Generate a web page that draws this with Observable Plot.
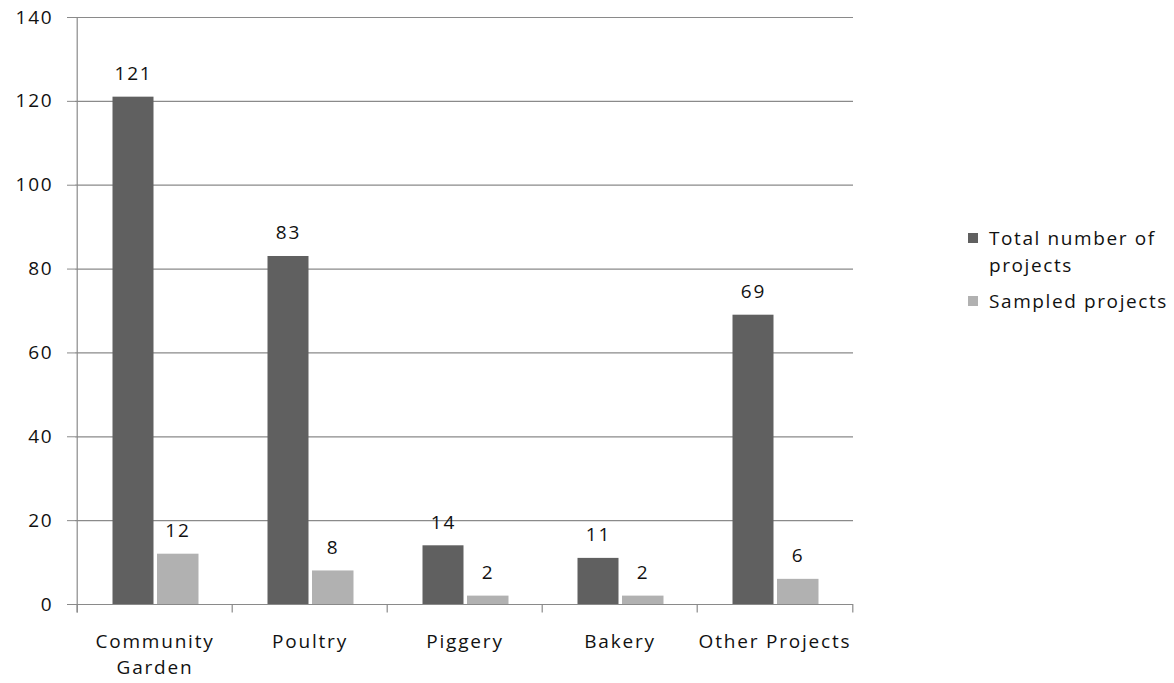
<!DOCTYPE html>
<html>
<head>
<meta charset="utf-8">
<script src="https://cdn.jsdelivr.net/npm/d3@7"></script>
<script src="https://cdn.jsdelivr.net/npm/@observablehq/plot@0.6"></script>
<style>
  html, body { margin: 0; padding: 0; background: #fff; }
  #wrap { position: relative; width: 1174px; height: 683px; font-family: "Open Sans", sans-serif; }
  #legend { position: absolute; left: 968px; top: 225px; font-size: 19px; letter-spacing: 1.6px; color: #111; }
  .item { position: relative; padding-left: 21px; line-height: 27px; margin-bottom: 9px; white-space: nowrap; }
  .sw { position: absolute; left: 0; top: 8px; width: 10px; height: 10px; }
</style>
</head>
<body>
<div id="wrap"><div id="legend"></div></div>
<script>
const categories = ["Community Garden", "Poultry", "Piggery", "Bakery", "Other Projects"];
const categoryLabels = ["Community\nGarden", "Poultry", "Piggery", "Bakery", "Other Projects"];
const totalProjects = [121, 83, 14, 11, 69];
const sampledProjects = [12, 8, 2, 2, 6];
const seriesNames = ["Total number of\nprojects", "Sampled projects"];
const seriesColors = ["#606060", "#b1b1b1"];
const yTicks = [0, 20, 40, 60, 80, 100, 120, 140];

const totalData = categories.map((c, i) => ({category: c, value: totalProjects[i]}));
const sampledData = categories.map((c, i) => ({category: c, value: sampledProjects[i]}));
const labelData = categories.map((c, i) => ({category: c, label: categoryLabels[i]}));

const font = "Open Sans, sans-serif";
const grid = "#8a8a8a";
const half = (853 - 75) / categories.length / 2;

const chart = Plot.plot({
  width: 1174,
  height: 683,
  marginLeft: 75,
  marginRight: 321,
  marginTop: 17,
  marginBottom: 79,
  style: {fontFamily: font, fontSize: "19px", color: "#111", background: "transparent", letterSpacing: "1.8px"},
  x: {domain: categories, padding: 0, axis: null},
  y: {domain: [0, 140], axis: null},
  marks: [
    Plot.ruleY(yTicks, {y: d => d, stroke: grid, strokeWidth: 1.2}),
    Plot.axisY({ticks: yTicks, tickSize: 8, tickPadding: 14, stroke: grid, strokeOpacity: 1, fontSize: 19, fill: "#111", label: null}),
    Plot.ruleX([categories[0]], {x: d => d, y1: -2, y2: 140, dx: -half, stroke: grid, strokeWidth: 1.2}),
    Plot.ruleX(categories, {x: d => d, y1: 0, y2: -2, dx: -half, stroke: grid, strokeWidth: 1.2}),
    Plot.ruleX([categories[categories.length - 1]], {x: d => d, y1: 0, y2: -2, dx: half, stroke: grid, strokeWidth: 1.2}),
    Plot.barY(totalData, {x: "category", y: "value", fill: seriesColors[0], insetLeft: 35.5, insetRight: 78.5}),
    Plot.barY(sampledData, {x: "category", y: "value", fill: seriesColors[1], insetLeft: 80, insetRight: 33.5}),
    Plot.text(totalData, {x: "category", y: "value", text: d => String(d.value), dx: -21.5, dy: -17, lineAnchor: "bottom", fontSize: 19, fill: "#111"}),
    Plot.text(sampledData, {x: "category", y: "value", text: d => String(d.value), dx: 23, dy: -17, lineAnchor: "bottom", fontSize: 19, fill: "#111"}),
    Plot.text(labelData, {x: "category", y: 0, text: "label", dy: 26, lineAnchor: "top", lineHeight: 1.33, fontSize: 19, fill: "#111"})
  ]
});
document.getElementById("wrap").prepend(chart);
chart.style.position = "absolute";
chart.style.left = "0";
chart.style.top = "0";

const legend = document.getElementById("legend");
seriesNames.forEach((name, i) => {
  const item = document.createElement("div");
  item.className = "item";
  const sw = document.createElement("span");
  sw.className = "sw";
  sw.style.background = seriesColors[i];
  item.appendChild(sw);
  name.split("\n").forEach((line, j) => {
    if (j > 0) item.appendChild(document.createElement("br"));
    item.appendChild(document.createTextNode(line));
  });
  legend.appendChild(item);
});
</script>
</body>
</html>
